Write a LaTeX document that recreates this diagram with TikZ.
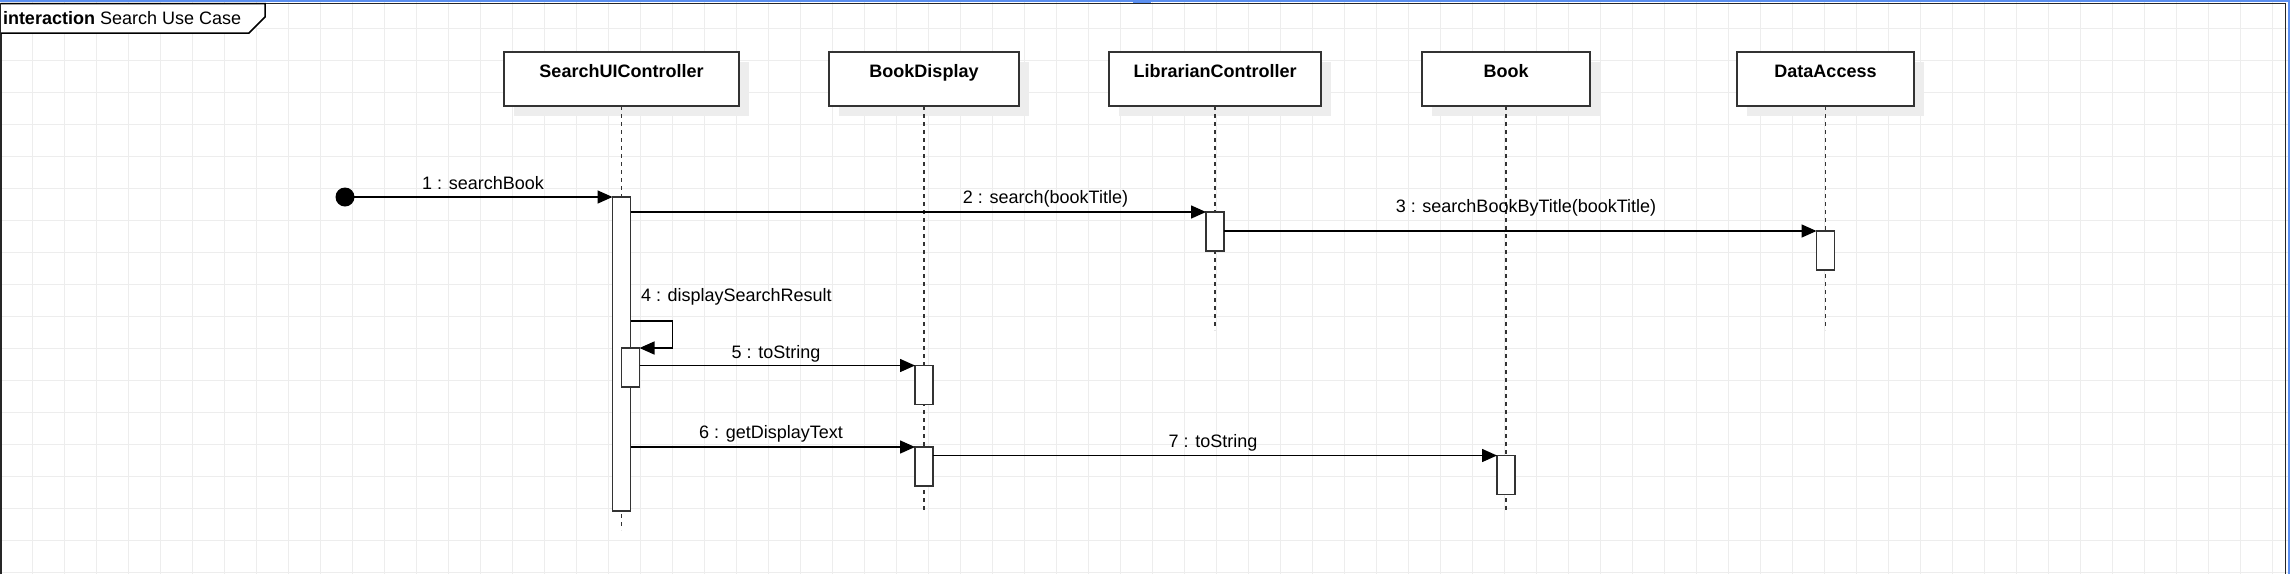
\documentclass[tikz,border=0pt]{standalone}
\usepackage{fontspec}
\setmainfont{Liberation Sans}
\usetikzlibrary{arrows.meta,calc,shadows}
\definecolor{gridc}{HTML}{EDEDED}
\definecolor{selblue}{HTML}{5B8FF0}
\definecolor{boxc}{HTML}{333333}
\begin{document}
\begin{tikzpicture}[x=1pt,y=-1pt,
  every node/.style={inner sep=0pt, outer sep=0pt},
  head/.style={draw=boxc, line width=1.5pt, fill=white, minimum height=54pt, anchor=north west,
    general shadow={fill=black!7, shadow xshift=10pt, shadow yshift=-10pt}},
  headtxt/.style={font=\bfseries\fontsize{18}{22}\selectfont, anchor=base},
  lifeline/.style={draw=boxc, line width=1.5pt, dash pattern=on 4pt off 4pt},
  actbox/.style={draw=boxc, line width=1.5pt, fill=white, minimum width=18pt, anchor=north},
  msg/.style={draw=black, line width=1.5pt, -{Triangle[length=15pt,width=13pt]}},
  lbl/.style={font=\fontsize{18}{22}\selectfont, anchor=base}
]
\useasboundingbox (0,0) rectangle (2290,574);
% grid
\foreach \x in {0,32,...,2290} \draw[gridc, line width=1pt] (\x,0) -- (\x,574);
\foreach \y in {28,60,...,574} \draw[gridc, line width=1pt] (0,\y) -- (2290,\y);
% selection artifacts
\draw[selblue, line width=2pt] (0,1) -- (2289,1) -- (2289,574);
\draw[selblue, line width=1.5pt] (1134,0) rectangle (1150,2.5);
% frame
\draw[black!85, line width=1.5pt] (1,574) -- (1,3.5) -- (2285.5,3.5) -- (2285.5,574);
\draw[black, line width=1.5pt, fill=white] (1,3.5) -- (265,3.5) -- (265,17) -- (249,33) -- (1,33);
\node[anchor=base west, font=\fontsize{18}{22}\selectfont] (ftitle) at (3,24.5) {\textbf{interaction} Search Use Case};

% lifeline heads
\node[head, minimum width=235pt] (h1) at (504,52) {};
\node[head, minimum width=190pt] (h2) at (829,52) {};
\node[head, minimum width=212pt] (h3) at (1109,52) {};
\node[head, minimum width=168pt] (h4) at (1422,52) {};
\node[head, minimum width=177pt] (h5) at (1737,52) {};
\node[headtxt] (t1) at ($(h1.north)+(0,25)$) {SearchUIController};
\node[headtxt] (t2) at ($(h2.north)+(0,25)$) {BookDisplay};
\node[headtxt] (t3) at ($(h3.north)+(0,25)$) {LibrarianController};
\node[headtxt] (t4) at ($(h4.north)+(0,25)$) {Book};
\node[headtxt] (t5) at ($(h5.north)+(0,25)$) {DataAccess};

% lifeline ends
\coordinate (e1) at ($(h1.south)+(0,424)$);
\coordinate (e2) at ($(h2.south)+(0,407)$);
\coordinate (e3) at ($(h3.south)+(0,224)$);
\coordinate (e4) at ($(h4.south)+(0,407)$);
\coordinate (e5) at ($(h5.south)+(0,224)$);
\foreach \i in {1,...,5} \draw[lifeline] (h\i.south) -- (e\i);

% activations
\node[actbox, minimum height=314pt] (a1) at ($(h1.south |- 0,197)$) {};
\node[actbox, minimum height=39pt] (a2) at ($(h1.south |- 0,348)+(9,0)$) {};
\node[actbox, minimum height=39pt] (l1) at ($(h3.south |- 0,212)$) {};
\node[actbox, minimum height=39pt] (d1) at ($(h5.south |- 0,231)$) {};
\node[actbox, minimum height=39pt] (b1) at ($(h2.south |- 0,365.5)$) {};
\node[actbox, minimum height=39pt] (b2) at ($(h2.south |- 0,447)$) {};
\node[actbox, minimum height=39pt] (k1) at ($(h4.south |- 0,455.5)$) {};

% start dot
\node[circle, fill=black, minimum size=19pt] (start) at (345,197) {};

% messages
\draw[msg] (start.center) -- (a1.north west);
\draw[msg] (a1.east |- l1.north) -- (l1.north west);
\draw[msg] (l1.east |- d1.north) -- (d1.north west);
\coordinate (s4) at ($(a1.east |- 0,321)$);
\coordinate (c4) at ($(s4)+(42,0)$);
\draw[msg] (s4) -- (c4) -- (c4 |- a2.north) -- (a2.north east);
\draw[msg] (a2.east |- b1.north) -- (b1.north west);
\draw[msg] (a1.east |- b2.north) -- (b2.north west);
\draw[msg] (b2.east |- k1.north) -- (k1.north west);

% message labels
\node[lbl] (m1) at (483,189.5) {1 : searchBook};
\node[lbl] (m2) at (1045.5,203) {2 : search(bookTitle)};
\node[lbl] (m3) at (1526,212.5) {3 : searchBookByTitle(bookTitle)};
\node[lbl, anchor=base west] (m4) at (641,301.5) {4 : displaySearchResult};
\node[lbl] (m5) at (776,358) {5 : toString};
\node[lbl] (m6) at (771,438.5) {6 : getDisplayText};
\node[lbl] (m7) at (1213,447.5) {7 : toString};
\end{tikzpicture}
\end{document}
